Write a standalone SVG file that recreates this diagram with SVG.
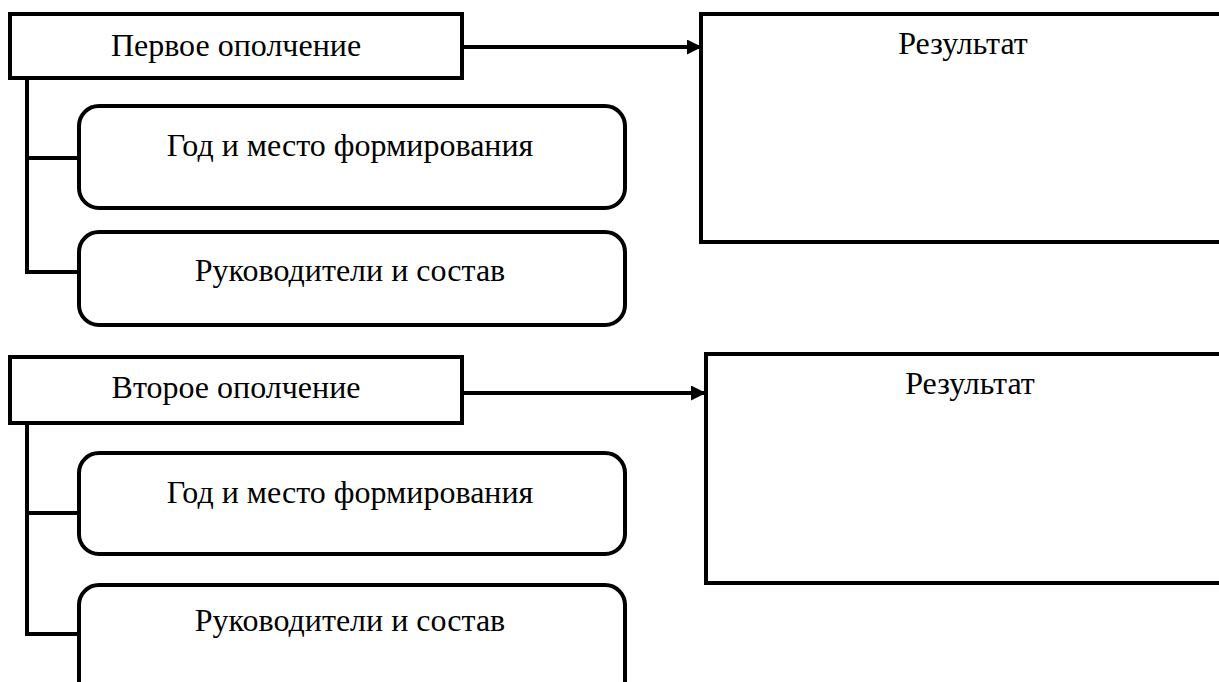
<svg xmlns="http://www.w3.org/2000/svg" width="1219" height="682" viewBox="0 0 1219 682">
<style>
.box{fill:#fff;stroke:#000;stroke-width:4}
.conn{fill:none;stroke:#000;stroke-width:4}
.t{font-family:"Liberation Serif","Times New Roman",serif;font-size:32px;fill:#000;text-anchor:middle}
</style>
<defs>
<marker id="ah" viewBox="0 0 10 10" refX="10" refY="5" markerWidth="16" markerHeight="15" markerUnits="userSpaceOnUse" orient="auto">
<path d="M0,0 L10,5 L0,10 Z" fill="#000"/>
</marker>
</defs>
<rect width="1219" height="682" fill="#fff"/>
<g id="connectors">
<line class="conn" x1="462" y1="47" x2="702" y2="47" marker-end="url(#ah)"/>
<polyline class="conn" points="27,78 27,272 79,272"/>
<line class="conn" x1="27" y1="158" x2="79" y2="158"/>
<line class="conn" x1="462" y1="393" x2="706" y2="393" marker-end="url(#ah)"/>
<polyline class="conn" points="27,424 27,634 79,634"/>
<line class="conn" x1="27" y1="513" x2="79" y2="513"/>
</g>
<g id="first">
<rect class="box" x="10" y="14" width="452" height="64"/>
<text class="t" x="236" y="56">Первое ополчение</text>
</g>
<g id="first-year">
<rect class="box" x="79" y="106" width="546" height="102" rx="20"/>
<text class="t" x="350" y="156">Год и место формирования</text>
</g>
<g id="first-leaders">
<rect class="box" x="79" y="232" width="546" height="93" rx="20"/>
<text class="t" x="350" y="281">Руководители и состав</text>
</g>
<g id="first-result">
<rect class="box" x="701" y="14" width="530" height="228"/>
<text class="t" x="963" y="54">Результат</text>
</g>
<g id="second">
<rect class="box" x="10" y="357" width="452" height="66"/>
<text class="t" x="236" y="398">Второе ополчение</text>
</g>
<g id="second-year">
<rect class="box" x="79" y="453" width="546" height="101" rx="20"/>
<text class="t" x="350" y="503">Год и место формирования</text>
</g>
<g id="second-leaders">
<rect class="box" x="79" y="585" width="546" height="120" rx="20"/>
<text class="t" x="350" y="631">Руководители и состав</text>
</g>
<g id="second-result">
<rect class="box" x="706" y="354" width="530" height="229"/>
<text class="t" x="970" y="394">Результат</text>
</g>
</svg>
